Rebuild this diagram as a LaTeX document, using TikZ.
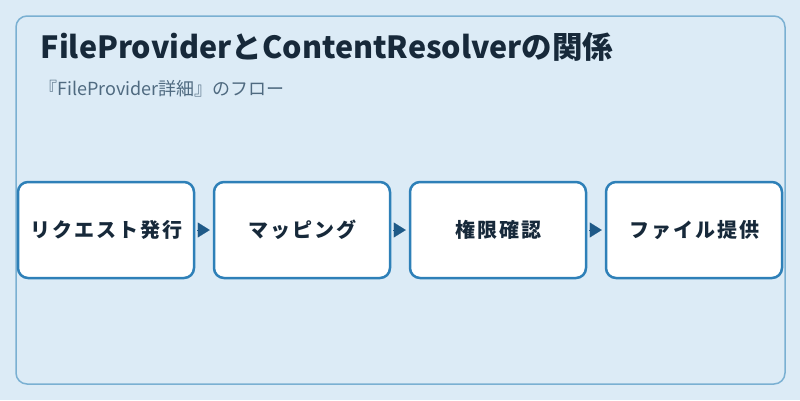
\documentclass[tikz,border=0pt]{standalone}
\usepackage{fontspec}
\setmainfont{Noto Sans CJK JP}
\usetikzlibrary{arrows.meta}
\definecolor{bgc}{HTML}{DCEBF6}
\definecolor{framec}{HTML}{7AB0D2}
\definecolor{boxc}{HTML}{2E80B8}
\definecolor{arrc}{HTML}{1F5A88}
\definecolor{titlec}{HTML}{17293A}
\definecolor{subc}{HTML}{4F6A80}
\tikzset{
  stepbox/.style={draw=boxc, line width=2.5pt, fill=white, rounded corners=10pt,
    minimum width=176pt, minimum height=96pt, inner sep=0pt,
    font=\fontsize{20}{24}\selectfont\bfseries\addfontfeature{LetterSpace=10}, text=titlec},
  flowarrow/.style={draw=arrc, line width=0.1pt, -{Triangle[length=12pt,width=15pt]}, arrc,
    shorten <=2pt, shorten >=3pt}
}
\begin{document}
\begin{tikzpicture}[x=1pt,y=-1pt]
\useasboundingbox (0,0) rectangle (800,400);
\fill[bgc] (0,0) rectangle (800,400);
\draw[framec, line width=1.5pt, rounded corners=11pt] (16,16) rectangle (785,384);
\node[anchor=base west, inner sep=0pt, text=titlec, font=\fontsize{30.5}{34}\selectfont\bfseries] (title) at (40.5,58.5) {FileProviderとContentResolverの関係};
\node[anchor=base west, inner sep=0pt, text=subc, font=\fontsize{18}{21}\selectfont] (sub) at (39,95.5) {『FileProvider詳細』のフロー};
\node[stepbox] (b1) at (106,230) {リクエスト発行};
\node[stepbox] (b2) at (302,230) {マッピング};
\node[stepbox] (b3) at (498,230) {権限確認};
\node[stepbox] (b4) at (694,230) {ファイル提供};
\draw[flowarrow] (b1.east) -- (b2.west);
\draw[flowarrow] (b2.east) -- (b3.west);
\draw[flowarrow] (b3.east) -- (b4.west);
\end{tikzpicture}
\end{document}
